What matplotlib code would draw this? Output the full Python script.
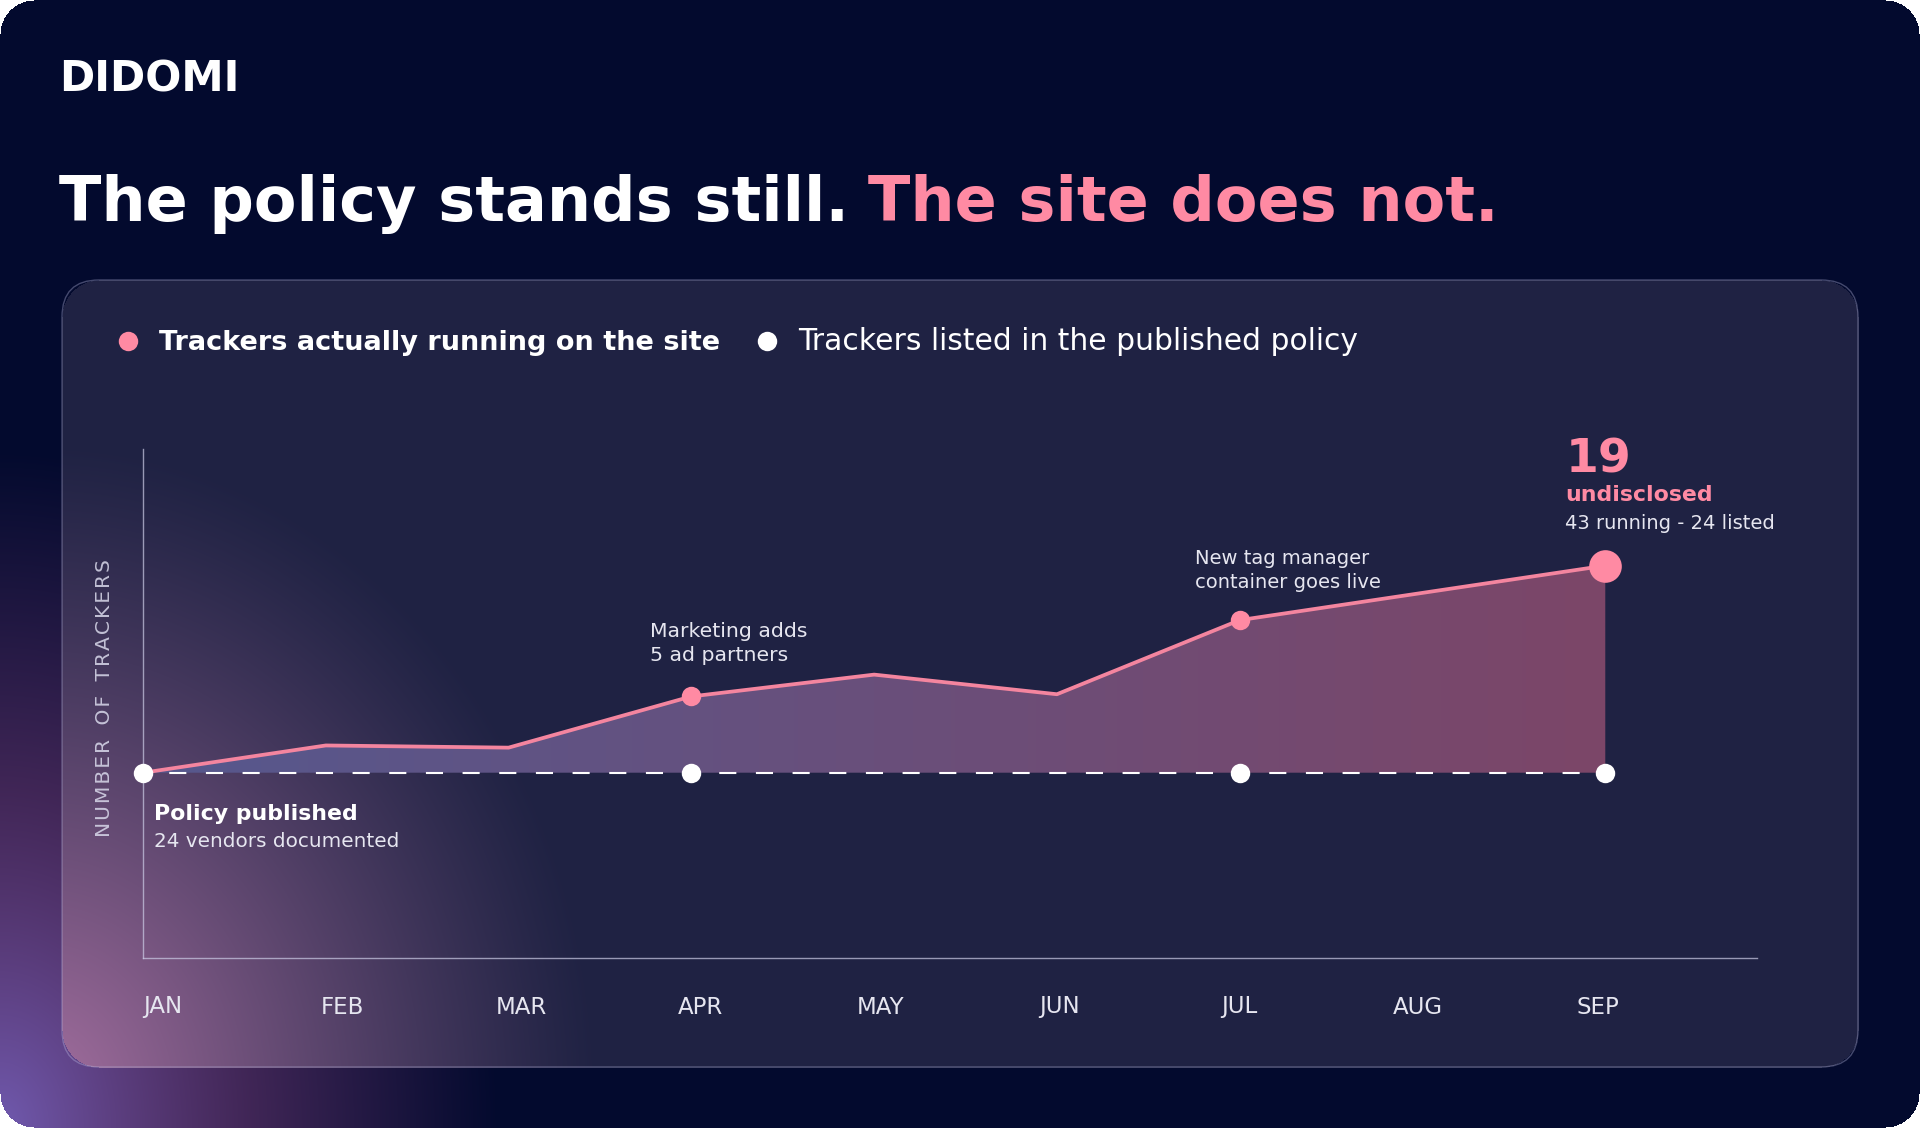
import numpy as np
import matplotlib.pyplot as plt
from matplotlib.patches import FancyBboxPatch
from matplotlib.lines import Line2D

plt.rcParams['font.family'] = ['DejaVu Sans']

W, H = 1920, 1128

months = ["JAN", "FEB", "MAR", "APR", "MAY", "JUN", "JUL", "AUG", "SEP"]
running = [24, 26.5, 26.3, 31, 33, 31.2, 38, 40.5, 43]
listed = [24, 24, 24, 24, 24, 24, 24, 24, 24]
listed_marks = ["JAN", "APR", "JUL", "SEP"]
running_marks = ["APR", "JUL"]
last_month = "SEP"

PINK = "#ff8aa3"
PINK_LINE = "#f4859f"
TEXT = "#e6e6f0"

fig = plt.figure(figsize=(W / 100, H / 100), dpi=100, facecolor="white")
renderer = fig.canvas.get_renderer()


def fit(t, target, along="w"):
    bb = t.get_window_extent(renderer)
    size = bb.width if along == "w" else bb.height
    t.set_fontsize(t.get_fontsize() * target / size)


def rounded_mask(xx, yy, x0, y0, x1, y1, r):
    cx = np.clip(xx, x0 + r, x1 - r)
    cy = np.clip(yy, y0 + r, y1 - r)
    return (xx - cx) ** 2 + (yy - cy) ** 2 <= r ** 2


# background with the purple glow in the lower left corner
yy, xx = np.mgrid[0:H, 0:W].astype(float)
base = np.array([3, 10, 46]) / 255
violet = np.array([112, 90, 175]) / 255
magenta = np.array([130, 68, 130]) / 255
d = np.sqrt((xx / 500) ** 2 + ((H - yy) / 680) ** 2)
w = np.clip(1 - d, 0, 1) ** 1.05
tint = np.clip(1 - d / 0.5, 0, 1)[..., None]
glow = violet * tint + magenta * (1 - tint)
img = base * (1 - w[..., None]) + glow * w[..., None]

panel = (62, 280, 1858, 1067, 37)
in_panel = rounded_mask(xx, yy, *panel)
panel_col = np.array([31, 34, 67]) / 255
glow2 = np.array([165, 112, 160]) / 255
d2 = np.sqrt(((xx - 40) / 560) ** 2 + ((yy - 1100) / 660) ** 2)
w2 = np.clip(1 - d2, 0, 1) ** 1.15
panel_img = panel_col * (1 - w2[..., None]) + glow2 * w2[..., None]
img[in_panel] = panel_img[in_panel]

outer = rounded_mask(xx, yy, 0, 0, W - 1, H - 1, 34)
img[~outer] = 1.0

ax_bg = fig.add_axes([0, 0, 1, 1], zorder=-1)
ax_bg.imshow(img, extent=[0, W, H, 0], interpolation="bilinear")
ax_bg.set_xlim(0, W)
ax_bg.set_ylim(H, 0)
ax_bg.axis("off")
ax_bg.add_patch(FancyBboxPatch((panel[0], panel[1]), panel[2] - panel[0], panel[3] - panel[1],
                               boxstyle="round,pad=0,rounding_size=37",
                               facecolor="none", edgecolor=(0.75, 0.75, 0.9, 0.35), lw=1.0))

# header
logo = fig.text(59 / W, 1 - 92 / H, "DIDOMI", color="white", fontsize=30,
                fontweight="bold", va="baseline")
fit(logo, 181)
t1 = fig.text(59 / W, 1 - 221 / H, "The policy stands still.", color="white",
              fontsize=50, fontweight="bold", va="baseline")
fit(t1, 791)
t2 = fig.text(868 / W, 1 - 221 / H, "The site does not.", color=PINK,
              fontsize=t1.get_fontsize(), fontweight="bold", va="baseline")

# chart
ax = fig.add_axes([143 / W, 1 - 958 / H, (1757 - 143) / W, (958 - 449) / H])
ax.patch.set_alpha(0)
x = np.arange(len(months))
run = np.array(running)
lst = np.array(listed)

poly = ax.fill_between(x, lst, run, facecolor="none", edgecolor="none")
left_c = np.array([86, 88, 142]) / 255
right_c = np.array([124, 70, 104]) / 255
g = np.linspace(0, 1, 256)[:, None]
grad = left_c * (1 - g) + right_c * g
im = ax.imshow(grad[None, :, :], extent=[x[0], x[-1], lst.min(), run.max()],
               aspect="auto", interpolation="bilinear", zorder=1)
im.set_clip_path(poly.get_paths()[0], transform=ax.transData)

ax.plot(x, lst, color="white", lw=1.5, linestyle=(5.0, (8.2, 9.4)), zorder=2)
ax.plot(x, run, color=PINK_LINE, lw=2.7, zorder=3, solid_joinstyle="round")

li = [months.index(m) for m in listed_marks]
ax.plot(x[li], lst[li], "o", color="white", ms=14, mec="none", zorder=5, clip_on=False)
ri = [months.index(m) for m in running_marks]
ax.plot(x[ri], run[ri], "o", color=PINK, ms=14, mec="none", zorder=5, clip_on=False)
k = months.index(last_month)
ax.plot(x[k], run[k], "o", color=PINK, ms=23.5, mec="none", zorder=5, clip_on=False)

ax.set_xlim(0, 8.83)
ax.set_ylim(7.0, 53.7)
for s in ["top", "right"]:
    ax.spines[s].set_visible(False)
for s in ["left", "bottom"]:
    ax.spines[s].set_color((0.8, 0.8, 0.9, 0.7))
    ax.spines[s].set_linewidth(1.0)
ax.set_yticks([])
ax.set_xticks([])

# month labels sit on their own evenly spaced row
ax_m = ax.twiny()
ax_m.set_xlim(-0.1115, 8.89)
for s in ax_m.spines.values():
    s.set_visible(False)
ax_m.xaxis.set_ticks_position("bottom")
ax_m.set_xticks(x)
ax_m.set_xticklabels(months, color=TEXT, fontsize=16.5)
ax_m.tick_params(axis="x", length=0, pad=27)

ylab = ax.text(-(143 - 105) / (1757 - 143), (958 - 698) / (958 - 449),
               "\u200a".join("NUMBER") + "\u2009 \u2009" + "\u200a".join("OF") + "\u2009 \u2009"
               + "\u200a".join("TRACKERS"),
               transform=ax.transAxes, rotation=90, ha="center", va="center",
               color=(0.85, 0.85, 0.92, 0.85), fontsize=14)
fit(ylab, 280, along="h")


def note(i, y, text, dx, dy, width, **kw):
    t = ax.annotate(text, xy=(x[i], y), xytext=(dx, dy), textcoords="offset pixels",
                    ha="left", va="baseline", color=kw.pop("color", TEXT),
                    fontsize=kw.pop("fontsize", 14), linespacing=1.32, **kw)
    if width:
        fit(t, width)
    return t


apr = months.index("APR")
jul = months.index("JUL")
note(apr, run[apr], "Marketing adds\n5 ad partners", -41.6, 35.4, 157)
note(jul, run[jul], "New tag manager\ncontainer goes live", -44.3, 32.2, 187)
note(k, run[k], f"{run[k] - lst[k]:.0f}", -40, 92.7, None, color=PINK,
     fontsize=34, fontweight="bold")
note(k, run[k], "undisclosed", -40, 64.7, 147, color=PINK, fontweight="bold")
note(k, run[k], f"{run[k]:.0f} running - {lst[k]:.0f} listed", -40, 36.7, 211)
note(0, lst[0], "Policy published", 11, -47.3, 203, color="white", fontweight="bold")
note(0, lst[0], f"{lst[0]:.0f} vendors documented", 11, -74.3, 245)

# legend
handles = [Line2D([], [], ls="none", marker="o", ms=14, mfc=PINK, mec="none"),
           Line2D([], [], ls="none", marker="o", ms=14, mfc="white", mec="none")]
leg = fig.legend(handles, ["Trackers actually running on the site",
                           "Trackers listed in the published policy"],
                 loc="center left", bbox_to_anchor=(115 / W, 1 - 342 / H), ncol=2,
                 frameon=False, fontsize=19, handlelength=1.0, handletextpad=0.68,
                 columnspacing=1.25, borderpad=0, borderaxespad=0)
lt = leg.get_texts()
lt[0].set_fontweight("bold")
for t in lt:
    t.set_color("white")
fit(lt[0], 563)
fit(lt[1], 561)

fig.savefig("out.png", dpi=100)
